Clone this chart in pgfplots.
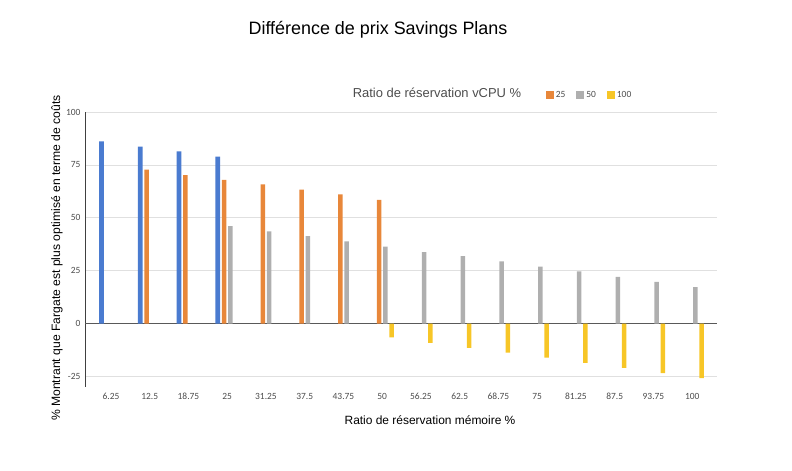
\documentclass[border=0pt]{standalone}
\usepackage{pgfplots}
\pgfplotsset{compat=1.18}
\usepackage{fontspec}
\setmainfont{Liberation Sans}
\newfontfamily\tickfont{Carlito}

\definecolor{cblue}{HTML}{4A7BD0}
\definecolor{corange}{HTML}{E8873A}
\definecolor{cgray}{HTML}{AFAFAF}
\definecolor{cyellow}{HTML}{F7C627}

\begin{document}
\begin{tikzpicture}[x=1bp,y=1bp]
\path[use as bounding box] (0,0) rectangle (792,471);
\begin{axis}[
    at={(85bp,84bp)}, anchor=south west,
    scale only axis,
    width=632bp, height=275bp,
    ybar, bar width=4.6bp,
    xmin=-0.67, xmax=15.64,
    ymin=-30, ymax=100,
    xtick={0,...,15},
    xticklabels={6.25,12.5,18.75,25,31.25,37.5,43.75,50,56.25,62.5,68.75,75,81.25,87.5,93.75,100},
    ytick={-25,0,25,50,75,100},
    axis x line*=bottom,
    axis y line*=left,
    x axis line style={draw=none},
    y axis line style={draw=black!75, line width=0.6pt},
    major tick length=0pt,
    ymajorgrids,
    grid style={draw=black!12, line width=0.6pt},
    extra y ticks={0},
    extra y tick labels={},
    extra y tick style={grid style={draw=black!65, line width=0.7pt}},
    /pgf/number format/assume math mode=true,
    ticklabel style={font=\tickfont\fontsize{9.5}{11}\selectfont, text=black!70},
    xticklabel style={yshift=-3bp},
    yticklabel style={xshift=-1bp},
    legend style={draw=none, fill=none, at={(0.724,1.06)}, anchor=west,
        font=\tickfont\fontsize{9.5}{11}\selectfont, text=black!70,
        legend columns=3, /tikz/every even column/.append style={column sep=9bp}},
    legend image code/.code={\fill[#1] (0bp,-4bp) rectangle (8bp,4bp);},
]
\addplot[fill=cblue, draw=none, bar shift=-9.45bp, forget plot] coordinates {(0,86.1) (1,83.6) (2,81.4) (3,78.9)};
\addplot[fill=corange, draw=none, bar shift=-3.15bp] coordinates {(1,72.8) (2,70.2) (3,67.9) (4,65.8) (5,63.3) (6,61.0) (7,58.4)};
\addlegendentry{25}
\addplot[fill=cgray, draw=none, bar shift=3.15bp] coordinates {(3,46.1) (4,43.6) (5,41.3) (6,38.8) (7,36.4) (8,33.8) (9,31.9) (10,29.4) (11,26.9) (12,24.6) (13,22.0) (14,19.7) (15,17.2)};
\addlegendentry{50}
\addplot[fill=cyellow, draw=none, bar shift=9.45bp] coordinates {(7,-6.6) (8,-9.1) (9,-11.5) (10,-13.7) (11,-16.1) (12,-18.6) (13,-21.0) (14,-23.5) (15,-25.8)};
\addlegendentry{100}
\end{axis}
\node[font=\fontsize{18}{21}\selectfont] at (378,441) {Différence de prix Savings Plans};
\node[font=\fontsize{13}{15}\selectfont, text=black!70] at (437,378) {Ratio de réservation vCPU \%};
\node[font=\fontsize{12}{14}\selectfont] at (430,51) {Ratio de réservation mémoire \%};
\node[font=\fontsize{12.2}{14}\selectfont, rotate=90] at (57,213) {\% Montrant que Fargate est plus optimisé en terme de coûts};
\end{tikzpicture}
\end{document}
